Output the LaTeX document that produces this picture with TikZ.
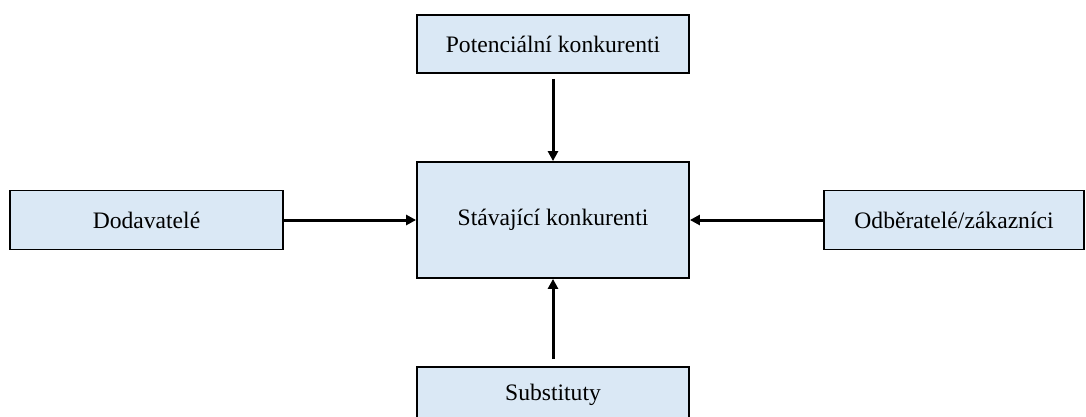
\documentclass[tikz,border=0pt]{standalone}
\usepackage{fontspec}
\setmainfont{Liberation Serif}
\usetikzlibrary{arrows.meta,positioning}
\definecolor{boxfill}{HTML}{DAE8F5}
\begin{document}
\begin{tikzpicture}[x=0.5pt,y=-0.5pt,font=\fontsize{11.8}{13.5}\selectfont,
  force/.style={draw, line width=0.9pt, fill=boxfill, inner sep=0pt, minimum width=136pt},
  push/.style={line width=1.5pt, -{Triangle[length=5pt,width=5pt]}}]
  \useasboundingbox (0,0) rectangle (1086,417);
  \clip (0,0) rectangle (1086,417);
  % five forces
  \node[force, minimum height=29pt] (potential) at (553,44) {Potenciální konkurenti};
  \node[force, minimum height=58pt] (rivals) at (553,220) {Stávající konkurenti};
  \node[force, minimum width=136.5pt, minimum height=29.5pt] (suppliers) at (146.5,220) {Dodavatelé};
  \node[force, minimum width=130pt, minimum height=29.5pt] (buyers) at (954,220) {Odběratelé/zákazníci};
  \node[force, minimum height=28pt] (substitutes) at (553,395) {Substituty};
  % arrows
  \draw[push, shorten <=2.5pt] (potential) -- (rivals);
  \draw[push] (suppliers) -- (rivals);
  \draw[push] (buyers) -- (rivals);
  \draw[push, shorten <=3.5pt] (substitutes) -- (rivals);
\end{tikzpicture}
\end{document}
